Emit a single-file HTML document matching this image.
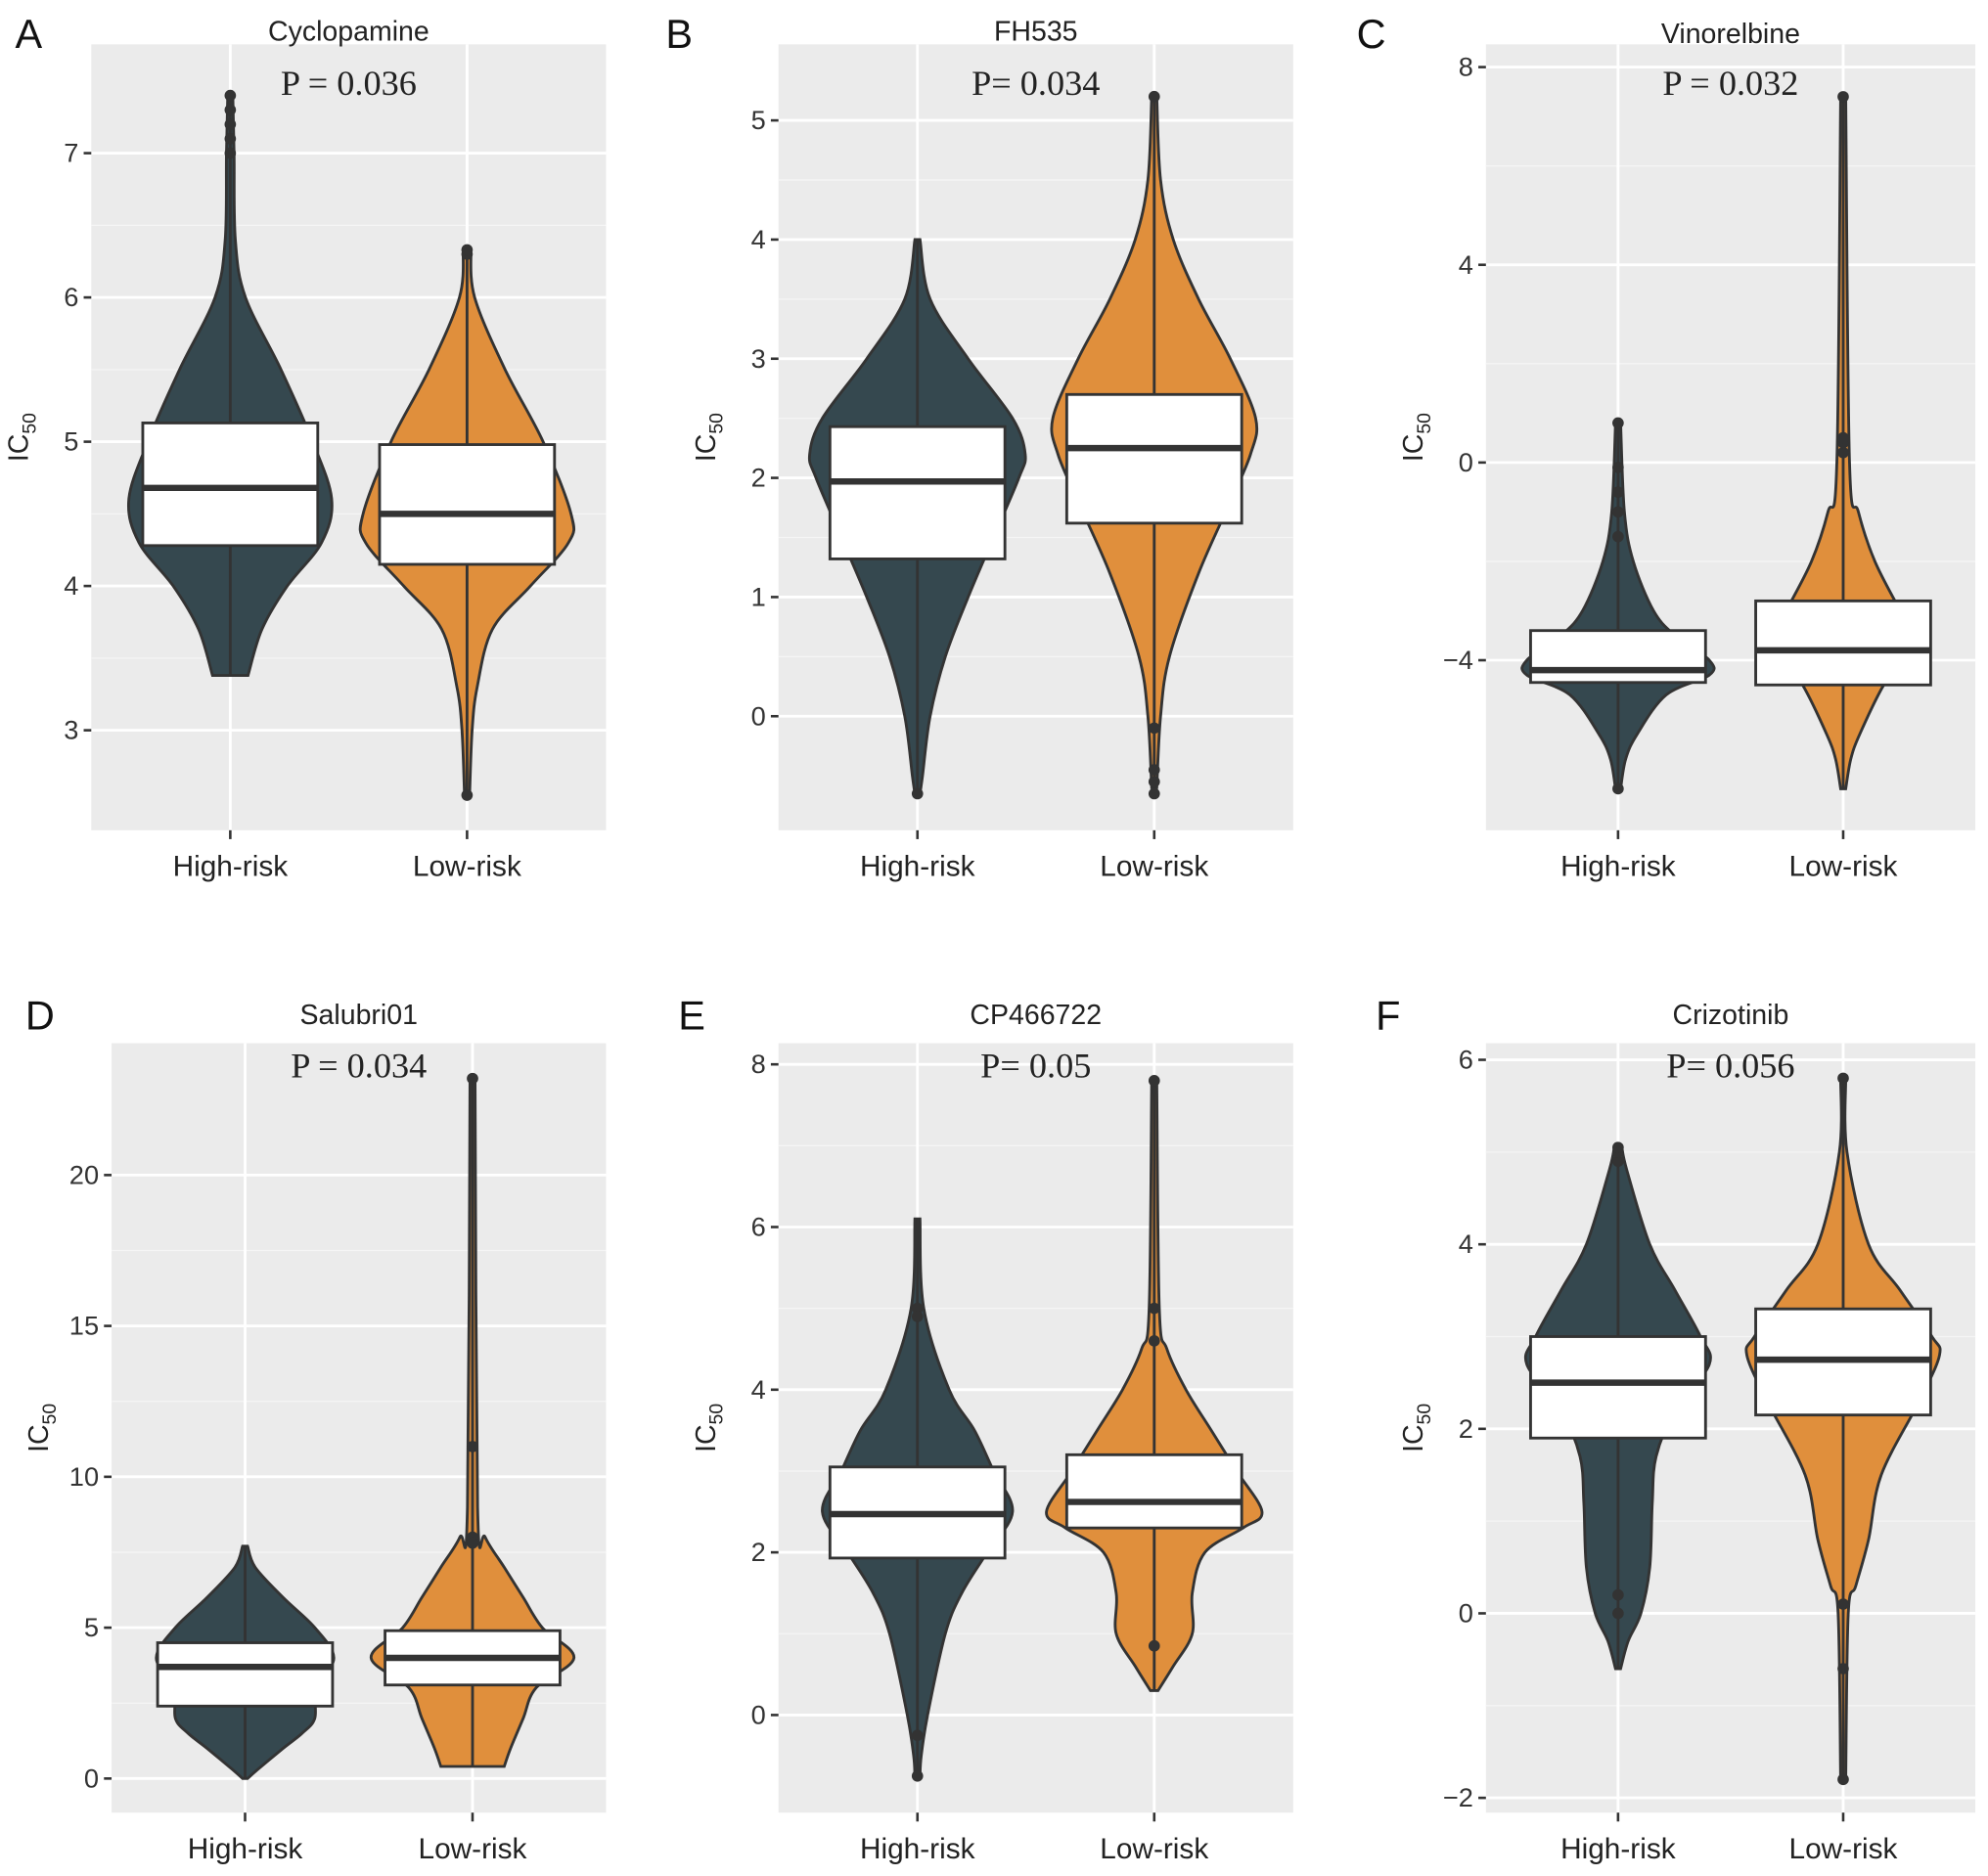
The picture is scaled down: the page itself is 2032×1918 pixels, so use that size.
<!DOCTYPE html>
<html><head><meta charset="utf-8"><style>
html,body{margin:0;padding:0;background:#fff;}
svg{display:block;}
text{font-family:"Liberation Sans",sans-serif;}
.serif{font-family:"Liberation Serif",serif;}
</style></head><body>
<svg id="fig" width="2032" height="1918" viewBox="0 0 1568 1480" preserveAspectRatio="none"></svg>
<script>
// ---------- data ----------
const panelLetters = ["A","B","C","D","E","F"];
const drugNames = ["Cyclopamine","FH535","Vinorelbine","Salubri01","CP466722","Crizotinib"];
const pLabels = ["P = 0.036","P= 0.034","P = 0.032","P = 0.034","P= 0.05","P= 0.056"];
const groups = ["High-risk","Low-risk"];
const yTicksA = [3,4,5,6,7];
const yTicksB = [0,1,2,3,4,5];
const yTicksC = [-4,0,4,8];
const yTicksD = [0,5,10,15,20];
const yTicksE = [0,2,4,6,8];
const yTicksF = [-2,0,2,4,6];
// violin density profiles: [value, relative half-width]
const violinA_high = [[7.4,2],[7.0,3],[6.4,4],[6.0,12],[5.5,40],[5.0,65],[4.6,80],[4.3,72],[4.0,45],[3.7,25],[3.38,14]];
const violinA_low  = [[6.33,3],[6.0,6],[5.5,30],[5.0,60],[4.5,82],[4.3,80],[4.0,50],[3.7,20],[3.3,8],[3.0,4],[2.55,2]];
const violinB_high = [[4.0,2],[3.5,10],[3.0,40],[2.5,75],[2.2,85],[2.0,80],[1.5,60],[1.0,40],[0.5,22],[0,10],[-0.5,4],[-0.65,2]];
const violinB_low  = [[5.2,2],[4.5,5],[4.0,15],[3.5,35],[3.0,60],[2.5,80],[2.2,76],[1.8,60],[1.2,35],[0.5,12],[0,5],[-0.6,2]];
const violinC_high = [[0.8,2],[-1,5],[-2,12],[-3,28],[-3.5,45],[-4.0,72],[-4.3,72],[-4.7,38],[-5.5,15],[-6,6],[-6.6,2]];
const violinC_low  = [[7.4,2],[0,5],[-1,12],[-2,25],[-3,45],[-3.5,55],[-4,47],[-4.5,32],[-5.5,13],[-6,6],[-6.6,2]];
const violinD_high = [[7.7,2],[7,8],[6,30],[5,55],[4,70],[3,56],[2,55],[1.5,45],[1,30],[0.3,10],[0,2]];
const violinD_low  = [[23.2,2],[9,4],[8,10],[7,25],[6,40],[5,55],[4,80],[3,50],[2,40],[1,30],[0.4,25]];
const violinE_high = [[6.1,2],[5,5],[4,25],[3.5,45],[3,60],[2.5,75],[2,55],[1.5,35],[1,22],[0,8],[-0.5,3],[-0.75,2]];
const violinE_low  = [[7.8,2],[5,4],[4.5,10],[4,25],[3.5,45],[3,65],[2.5,85],[2.3,70],[2,40],[1.5,30],[1,30],[0.6,15],[0.3,3]];
const violinF_high = [[5.05,3],[4.8,7],[4,25],[3.5,45],[3,65],[2.7,72],[2.2,45],[1.7,30],[1.2,27],[0.5,25],[0,18],[-0.3,8],[-0.6,2]];
const violinF_low  = [[5.8,2],[5,3],[4,20],[3.5,45],[3,70],[2.8,76],[2.3,60],[1.5,30],[0.8,20],[0.3,10],[0,4],[-1.8,2]];
// box stats: [q1, median, q3]
const boxA = [[4.28,4.68,5.13],[4.15,4.5,4.98]];
const boxB = [[1.32,1.97,2.43],[1.62,2.25,2.7]];
const boxC = [[-4.45,-4.2,-3.4],[-4.5,-3.8,-2.8]];
const boxD = [[2.4,3.7,4.5],[3.1,4.0,4.9]];
const boxE = [[1.93,2.47,3.05],[2.3,2.62,3.2]];
const boxF = [[1.9,2.5,3.0],[2.15,2.75,3.3]];
// outliers
const outA = [[7.0,7.1,7.2,7.3,7.4],[6.3,6.33,2.55]];
const outB = [[-0.65],[5.2,-0.1,-0.45,-0.55,-0.65]];
const outC = [[0.8,-0.1,-0.6,-1.0,-1.5,-6.6],[0.2,0.4,0.5,7.4]];
const outD = [[],[23.2,11,8,7.8]];
const outE = [[5.0,4.9,-0.25,-0.75],[7.8,5.0,4.6,0.85]];
const outF = [[4.9,5.0,5.05,0,0.2],[5.8,0.1,-0.6,-1.8]];

// ---------- layout ----------
const panels = [
 {x0:72,x1:478,y0:35,y1:655,dom:[2.307,7.754],ticks:yTicksA,v:[violinA_high,violinA_low],box:boxA,out:outA,lx:12,ly:28,ty:32,py:75},
 {x0:614,x1:1020,y0:35,y1:655,dom:[-0.957,5.638],ticks:yTicksB,v:[violinB_high,violinB_low],box:boxB,out:outB,lx:525,ly:28,ty:32,py:75},
 {x0:1172,x1:1558,y0:35,y1:655,dom:[-7.44,8.46],ticks:yTicksC,v:[violinC_high,violinC_low],box:boxC,out:outC,lx:1070,ly:28,ty:34,py:75},
 {x0:88,x1:478,y0:823,y1:1430,dom:[-1.13,24.37],ticks:yTicksD,v:[violinD_high,violinD_low],box:boxD,out:outD,lx:20,ly:802,ty:808,py:850},
 {x0:614,x1:1020,y0:823,y1:1430,dom:[-1.2,8.26],ticks:yTicksE,v:[violinE_high,violinE_low],box:boxE,out:outE,lx:535,ly:802,ty:808,py:850},
 {x0:1172,x1:1558,y0:823,y1:1430,dom:[-2.16,6.18],ticks:yTicksF,v:[violinF_high,violinF_low],box:boxF,out:outF,lx:1085,ly:802,ty:808,py:850}
];
const fills = ["#35484f","#e08f3c"];
const NS = "http://www.w3.org/2000/svg";
const svg = document.getElementById('fig');
function mk(tag, attrs, parent){const e=document.createElementNS(NS,tag);for(const k in attrs)e.setAttribute(k,attrs[k]);(parent||svg).appendChild(e);return e;}
function spline(pts){
  let d="M"+pts[0][0]+","+pts[0][1];
  for(let i=0;i<pts.length-1;i++){
    const p0=pts[Math.max(i-1,0)],p1=pts[i],p2=pts[i+1],p3=pts[Math.min(i+2,pts.length-1)];
    const c1=[p1[0]+(p2[0]-p0[0])/6,p1[1]+(p2[1]-p0[1])/6];
    const c2=[p2[0]-(p3[0]-p1[0])/6,p2[1]-(p3[1]-p1[1])/6];
    d+=" C"+c1[0]+","+c1[1]+" "+c2[0]+","+c2[1]+" "+p2[0]+","+p2[1];
  }
  return d;
}

panels.forEach((P,pi)=>{
  const g = mk('g',{});
  
  
  const h = P.y1-P.y0, w = P.x1-P.x0;
  const y = v => P.y1 - (v-P.dom[0])/(P.dom[1]-P.dom[0])*h;
  const x = i => P.x0 + w*(0.27+0.46*i);
  const bg = mk('rect',{x:P.x0,y:P.y0,width:w,height:h,fill:'#ebebeb'},g);
  
  
  for(let i=0;i<P.ticks.length-1;i++){
    const m=(P.ticks[i]+P.ticks[i+1])/2;
    mk('line',{x1:P.x0,x2:P.x1,y1:y(m),y2:y(m),stroke:'#f5f5f5','stroke-width':1},g);
  }
  P.ticks.forEach(t=>{
    const gl = mk('line',{x1:P.x0,x2:P.x1,y1:y(t),y2:y(t),stroke:'#fff','stroke-width':2.2},g);
    
    
    mk('line',{x1:P.x0-6,x2:P.x0,y1:y(t),y2:y(t),stroke:'#333','stroke-width':2},g);
    const tl = mk('text',{x:P.x0-10,y:y(t)+7,'text-anchor':'end','font-size':21,fill:'#333'},g);
    tl.textContent = t<0 ? '\u2212'+Math.abs(t) : String(t);
    
    
  });
  groups.forEach((gn,gi)=>{
    const cx = x(gi);
    mk('line',{x1:cx,x2:cx,y1:P.y0,y2:P.y1,stroke:'#fff','stroke-width':2.2},g);
    mk('line',{x1:cx,x2:cx,y1:P.y1,y2:P.y1+7,stroke:'#333','stroke-width':2},g);
    const xl = mk('text',{x:cx,y:P.y1+36,'text-anchor':'middle','font-size':23,fill:'#222'},g);
    xl.textContent = gn;
    
    
    const prof = P.v[gi];
    const right = prof.map(p=>[cx+p[1],y(p[0])]);
    const left = prof.slice().reverse().map(p=>[cx-p[1],y(p[0])]);
    let d = spline(right)+" L"+left[0][0]+","+left[0][1]+spline(left).slice(1).replace(/^[^C]*/,' ')+" Z";
    const vp = mk('path',{d:d,fill:fills[gi],stroke:'#333','stroke-width':2.2},g);
    
    
    const top = prof[0][0], bot = prof[prof.length-1][0];
    mk('line',{x1:cx,x2:cx,y1:y(top),y2:y(bot),stroke:'#333','stroke-width':2.2},g);
    P.out[gi].forEach(o=>{
      const c = mk('circle',{cx:cx,cy:y(o),r:4.5,fill:'#333'},g);
      
      
    });
    const b = P.box[gi];
    const br = mk('rect',{x:cx-69,y:y(b[2]),width:138,height:y(b[0])-y(b[2]),fill:'#fff',stroke:'#333','stroke-width':2.2},g);
    
    
    const md = mk('line',{x1:cx-69,x2:cx+69,y1:y(b[1]),y2:y(b[1]),stroke:'#333','stroke-width':5},g);
    
    
  });
  const tt = mk('text',{x:(P.x0+P.x1)/2,y:P.ty,'text-anchor':'middle','font-size':22,fill:'#222'},g);
  tt.textContent = drugNames[pi];
  
  
  const pv = mk('text',{x:(P.x0+P.x1)/2,y:P.py,'text-anchor':'middle','font-size':28,fill:'#222','class':'serif'},g);
  pv.textContent = pLabels[pi];
  
  
  const lt = mk('text',{x:P.lx,y:P.ly+10,'font-size':32,fill:'#111'},g);
  lt.textContent = panelLetters[pi];
  
  
  const ay = (P.y0+P.y1)/2, ax = P.x0-50;
  const at = mk('text',{x:0,y:0,'text-anchor':'middle','font-size':22,fill:'#222',transform:`translate(${ax},${ay}) rotate(-90)`},g);
  at.innerHTML = 'IC<tspan font-size="15" dy="6">50</tspan>';
  
  
});
</script>
</body></html>
